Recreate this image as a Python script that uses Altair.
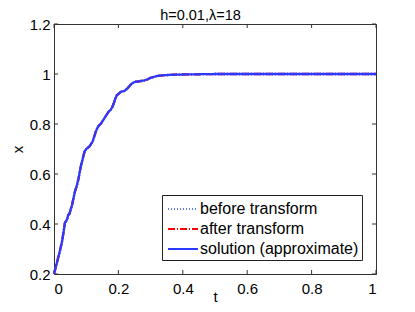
import altair as alt
import pandas as pd

# values
t_vals = [0, 0.005, 0.01, 0.015, 0.019, 0.025, 0.03, 0.034, 0.037, 0.041, 0.044, 0.048,
          0.052, 0.055, 0.06, 0.065, 0.07, 0.076, 0.08, 0.085, 0.09, 0.095, 0.1, 0.105,
          0.11, 0.115, 0.12, 0.125, 0.13, 0.135, 0.14, 0.145, 0.15, 0.155, 0.16, 0.165,
          0.17, 0.175, 0.18, 0.185, 0.19, 0.195, 0.2, 0.205, 0.21, 0.22, 0.23, 0.24, 0.25,
          0.26, 0.27, 0.28, 0.29, 0.3, 0.32, 0.34, 0.37, 0.4, 0.45, 0.5, 0.6, 0.7, 0.8,
          0.9, 1.0]
x_vals = [0.2, 0.225, 0.25, 0.275, 0.296, 0.33, 0.37, 0.405, 0.41, 0.42, 0.436, 0.44,
          0.46, 0.47, 0.5, 0.53, 0.55, 0.58, 0.61, 0.64, 0.665, 0.69, 0.7, 0.705,
          0.71, 0.72, 0.73, 0.75, 0.77, 0.785, 0.795, 0.8, 0.81, 0.82, 0.83, 0.84,
          0.85, 0.855, 0.865, 0.88, 0.9, 0.915, 0.92, 0.926, 0.93, 0.933, 0.945, 0.96,
          0.968, 0.97, 0.972, 0.974, 0.978, 0.985, 0.992, 0.995, 0.997, 0.998, 0.999,
          1.0, 1.0, 1.0, 1.0, 1.0, 1.0]
series = ["before transform", "after transform", "solution (approximate)"]
colors = ["#6677ff", "#ff0000", "#2a3bff"]
dashes = [[1, 2], [7, 2, 1, 2], [1, 0]]
x_ticks = [0, 0.2, 0.4, 0.6, 0.8, 1.0]
y_ticks = [0.2, 0.4, 0.6, 0.8, 1.0, 1.2]

rows = []
for s in series:
    for t, x in zip(t_vals, x_vals):
        rows.append({"t": t, "x": x, "series": s})
df = pd.DataFrame(rows)

W, H = 322, 250
FONT = "Liberation Sans"

xs = alt.Scale(domain=[0, 1], nice=False, zero=False)
ys = alt.Scale(domain=[0.2, 1.2], nice=False, zero=False)

color = alt.Color("series:N", scale=alt.Scale(domain=series, range=colors),
                  legend=alt.Legend(title=None, orient="none", legendX=108, legendY=171,
                                    symbolType="M-1.5,0L1.5,0", symbolSize=400, symbolStrokeWidth=2,
                                    labelFontSize=16, labelFont=FONT, labelColor="black",
                                    strokeColor="#222222", fillColor="white",
                                    padding=3, rowPadding=1, labelLimit=300,
                                    labelOffset=6, symbolOffset=7))
dash = alt.StrokeDash("series:N", scale=alt.Scale(domain=series, range=dashes), legend=None)

layers = []
for s in series:
    layers.append(
        alt.Chart(df).transform_filter(alt.datum.series == s).mark_line(strokeWidth=2.3).encode(
            x=alt.X("t:Q", scale=xs,
                    axis=alt.Axis(title="t", values=x_ticks, format="~g", tickSize=0,
                                  labelPadding=7, titleBaseline="alphabetic", titleY=27)),
            y=alt.Y("x:Q", scale=ys,
                    axis=alt.Axis(title="x", values=y_ticks, format="~g", tickSize=0,
                                  labelPadding=4, titlePadding=4)),
            color=color,
            strokeDash=dash,
        )
    )

xt = pd.DataFrame({"v": x_ticks})
yt = pd.DataFrame({"v": y_ticks})
tick_col = "#333333"
ticks = [
    alt.Chart(xt).mark_rule(color=tick_col).encode(x=alt.X("v:Q", scale=xs), y=alt.value(H), y2=alt.value(H - 4)),
    alt.Chart(xt).mark_rule(color=tick_col).encode(x=alt.X("v:Q", scale=xs), y=alt.value(0), y2=alt.value(4)),
    alt.Chart(yt).mark_rule(color=tick_col).encode(y=alt.Y("v:Q", scale=ys), x=alt.value(0), x2=alt.value(4)),
    alt.Chart(yt).mark_rule(color=tick_col).encode(y=alt.Y("v:Q", scale=ys), x=alt.value(W), x2=alt.value(W - 4)),
]

chart = alt.layer(*ticks, *layers).properties(
    width=W, height=H,
    title=alt.Title("h=0.01,λ=18", font=FONT, fontSize=14.5, fontWeight="normal",
                    color="black", offset=6, dy=12, anchor="start", dx=150),
    autosize=alt.AutoSizeParams(type="none"),
    padding={"left": 46, "top": 16, "right": 31, "bottom": 30},
    background="white",
).configure_view(stroke="#333333", strokeWidth=1).configure_axis(
    domainColor="#333333", labelFont=FONT, labelFontSize=15, labelColor="black",
    titleFont=FONT, titleFontSize=15, titleFontWeight="normal", titleColor="black",
    grid=False,
)

chart.save("out.html", embed_options={"renderer": "svg", "actions": False})
